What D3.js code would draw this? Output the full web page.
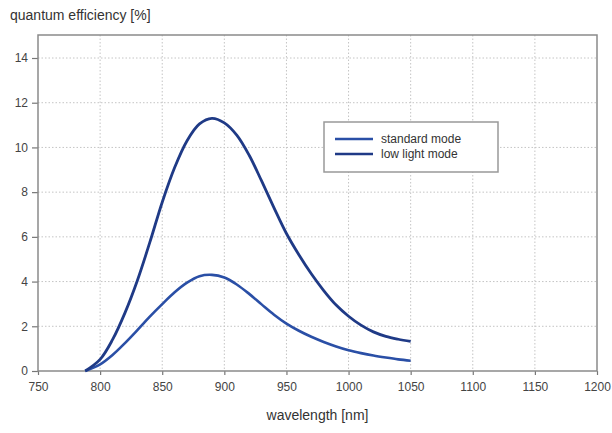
<!DOCTYPE html>
<html>
<head>
<meta charset="utf-8">
<script src="https://cdn.jsdelivr.net/npm/d3@7"></script>
<style>
  body { margin: 0; background: #fff; }
  #chart { width: 612px; height: 433px; }
  text { font-family: "Liberation Sans", Arial, sans-serif; }
</style>
</head>
<body>
<div id="chart"></div>
<script>
// wavelength samples [nm]
const wavelengths = [788, 800, 810, 820, 830, 840, 850, 860, 870, 880, 890, 900, 910, 920, 930, 940, 950, 960, 970, 980, 990, 1000, 1010, 1020, 1030, 1040, 1050];
// quantum efficiency [%]
const standardMode = [0, 0.3, 0.72, 1.25, 1.83, 2.43, 2.99, 3.52, 3.95, 4.24, 4.3, 4.18, 3.87, 3.45, 2.98, 2.52, 2.12, 1.8, 1.53, 1.3, 1.1, 0.93, 0.8, 0.69, 0.6, 0.52, 0.46];
const lowLightMode = [0, 0.52, 1.4, 2.6, 4.05, 5.75, 7.55, 9.1, 10.3, 11.05, 11.3, 11.1, 10.55, 9.65, 8.5, 7.3, 6.15, 5.2, 4.35, 3.6, 2.95, 2.45, 2.05, 1.75, 1.55, 1.42, 1.32];
const seriesNames = ["standard mode", "low light mode"];
const xTicks = [750, 800, 850, 900, 950, 1000, 1050, 1100, 1150, 1200];
const yTicks = [0, 2, 4, 6, 8, 10, 12, 14];

const W = 612, H = 433;
const margin = {top: 35, right: 15, bottom: 62, left: 38};
const width = W - margin.left - margin.right;
const height = H - margin.top - margin.bottom;

const svg = d3.select("#chart").append("svg")
    .attr("width", W)
    .attr("height", H);

const g = svg.append("g")
    .attr("transform", `translate(${margin.left}, ${margin.top})`);

const x = d3.scaleLinear().domain([750, 1200]).range([0, width]);
// 14 sits a little below the frame top
const y = d3.scaleLinear().domain([0, 14]).range([height, 23]);

// grid
g.append("g")
    .selectAll("line")
    .data(xTicks.slice(1, -1))
    .join("line")
    .attr("x1", d => x(d)).attr("x2", d => x(d))
    .attr("y1", 0).attr("y2", height)
    .attr("stroke", "#c4c4c4")
    .attr("stroke-dasharray", "1.5,2");

g.append("g")
    .selectAll("line")
    .data(yTicks.slice(1))
    .join("line")
    .attr("x1", 0).attr("x2", width)
    .attr("y1", d => y(d)).attr("y2", d => y(d))
    .attr("stroke", "#c4c4c4")
    .attr("stroke-dasharray", "1.5,2");

// axes
const xAxis = g.append("g")
    .attr("transform", `translate(0, ${height})`)
    .call(d3.axisBottom(x).tickValues(xTicks).tickFormat(d3.format("d"))
        .tickSize(4).tickPadding(7).tickSizeOuter(0));

const yAxis = g.append("g")
    .call(d3.axisLeft(y).tickValues(yTicks).tickFormat(d3.format("d"))
        .tickSize(6).tickPadding(4).tickSizeOuter(0));

[xAxis, yAxis].forEach(a => {
    a.select(".domain").remove();
    a.selectAll("line").attr("stroke", "#777").attr("stroke-width", 1.2);
    a.selectAll("text")
        .attr("fill", "#444")
        .style("font-size", "12px")
        .style("font-family", "'Liberation Sans', Arial, sans-serif");
});

// frame
g.append("rect")
    .attr("x", 0).attr("y", 0)
    .attr("width", width).attr("height", height)
    .attr("fill", "none")
    .attr("stroke", "#8a8a8a")
    .attr("stroke-width", 1.5);

// curves
const line = d3.line()
    .x((d, i) => x(wavelengths[i]))
    .y(d => y(d))
    .curve(d3.curveCatmullRom.alpha(0.5));

g.append("path")
    .datum(standardMode)
    .attr("fill", "none")
    .attr("stroke", "#2a4fa6")
    .attr("stroke-width", 2.6)
    .attr("d", line);

g.append("path")
    .datum(lowLightMode)
    .attr("fill", "none")
    .attr("stroke", "#1f3a86")
    .attr("stroke-width", 2.8)
    .attr("d", line);

// legend
const legend = svg.append("g").attr("transform", "translate(324, 122)");
legend.append("rect")
    .attr("width", 174).attr("height", 50)
    .attr("fill", "#fff")
    .attr("stroke", "#999")
    .attr("stroke-width", 1.5);

seriesNames.forEach((name, i) => {
    const ly = 17 + i * 15;
    legend.append("line")
        .attr("x1", 11).attr("x2", 49)
        .attr("y1", ly).attr("y2", ly)
        .attr("stroke", i === 0 ? "#2a4fa6" : "#1f3a86")
        .attr("stroke-width", 2.6);
    legend.append("text")
        .attr("x", 57).attr("y", ly + 4)
        .attr("fill", "#333")
        .style("font-size", "12px")
        .text(name);
});

// titles
svg.append("text")
    .attr("x", 10).attr("y", 20)
    .attr("fill", "#333")
    .style("font-size", "14px")
    .text("quantum efficiency [%]");

svg.append("text")
    .attr("x", margin.left + width / 2).attr("y", 420)
    .attr("text-anchor", "middle")
    .attr("fill", "#333")
    .style("font-size", "14px")
    .text("wavelength [nm]");
</script>
</body>
</html>
